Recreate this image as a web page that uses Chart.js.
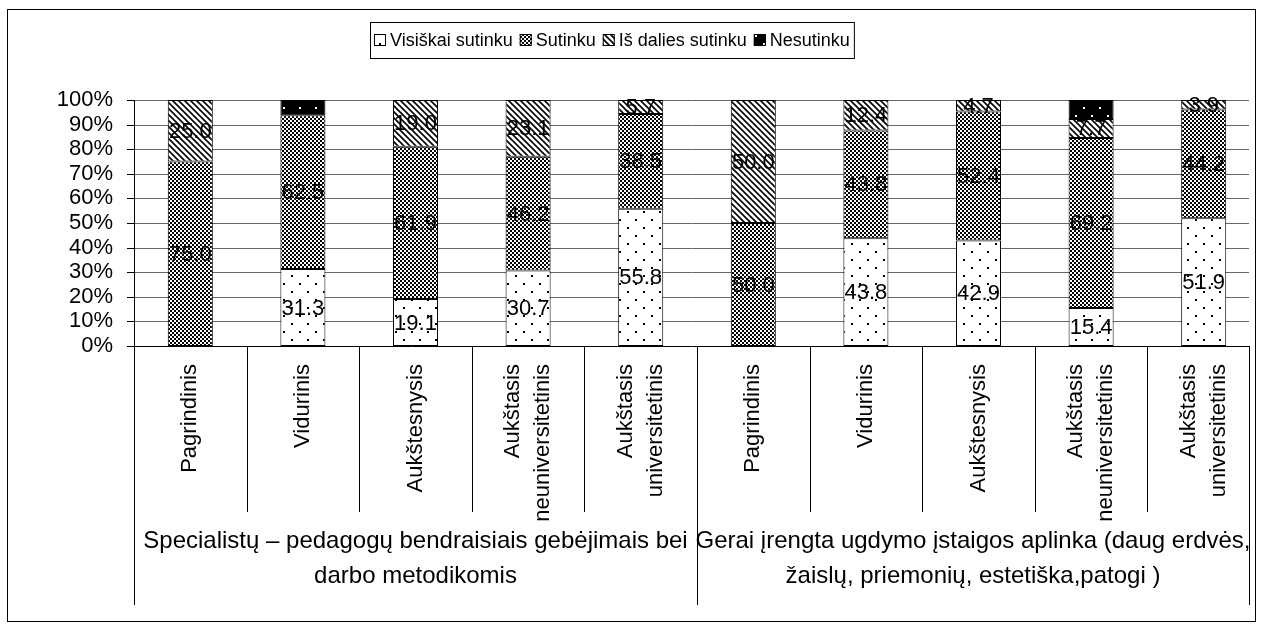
<!DOCTYPE html>
<html>
<head>
<meta charset="utf-8">
<script src="https://cdn.jsdelivr.net/npm/chart.js@4.4.1/dist/chart.umd.min.js"></script>
<style>
  html, body { margin: 0; padding: 0; background: #fff; }
</style>
</head>
<body>
<canvas id="surveyChart" width="1264" height="631"></canvas>
<script>
const categories = [
  'Pagrindinis', 'Vidurinis', 'Aukštesnysis', ['Aukštasis', 'neuniversitetinis'], ['Aukštasis', 'universitetinis'],
  'Pagrindinis', 'Vidurinis', 'Aukštesnysis', ['Aukštasis', 'neuniversitetinis'], ['Aukštasis', 'universitetinis']
];
const groups = [
  ['Specialistų – pedagogų bendraisiais gebėjimais bei', 'darbo metodikomis'],
  ['Gerai įrengta ugdymo įstaigos aplinka (daug erdvės,', 'žaislų, priemonių, estetiška,patogi )']
];
const seriesNames = ['Visiškai sutinku', 'Sutinku', 'Iš dalies sutinku', 'Nesutinku'];
const visiskai  = [0, 31.3, 19.1, 30.7, 55.8, 0, 43.8, 42.9, 15.4, 51.9];
const sutinku   = [75.0, 62.5, 61.9, 46.2, 38.5, 50.0, 43.8, 52.4, 69.2, 44.2];
const isDalies  = [25.0, 0, 19.0, 23.1, 5.7, 50.0, 12.4, 4.7, 7.7, 3.9];
const nesutinku = [0, 6.2, 0, 0, 0, 0, 0, 0, 7.7, 0];
const yTicks = [0, 10, 20, 30, 40, 50, 60, 70, 80, 90, 100];

const FONT = 'Liberation Sans, Arial, sans-serif';
const PLOT_RIGHT = 1249;   // gridlines and last separator stop here

// black & white fill patterns, like an old office chart
function makePattern(w, h, draw) {
  const c = document.createElement('canvas');
  c.width = w; c.height = h;
  const g = c.getContext('2d');
  draw(g, w, h);
  return g.createPattern(c, 'repeat');
}
const dots = makePattern(16, 16, (g) => {
  g.fillStyle = '#fff'; g.fillRect(0, 0, 16, 16);
  g.fillStyle = '#000'; g.fillRect(3, 3, 2, 2); g.fillRect(11, 11, 2, 2);
});
const checker = makePattern(4, 4, (g) => {
  g.fillStyle = '#fff'; g.fillRect(0, 0, 4, 4);
  g.fillStyle = '#000'; g.fillRect(0, 0, 2, 2); g.fillRect(2, 2, 2, 2);
});
const diagonal = makePattern(6, 6, (g) => {
  g.fillStyle = '#fff'; g.fillRect(0, 0, 6, 6);
  g.strokeStyle = '#000'; g.lineWidth = 1.6;
  g.beginPath();
  g.moveTo(-1, -1); g.lineTo(7, 7);
  g.moveTo(-4, 2); g.lineTo(4, 10);
  g.moveTo(2, -4); g.lineTo(10, 4);
  g.stroke();
});
const darkDots = makePattern(16, 16, (g) => {
  g.fillStyle = '#000'; g.fillRect(0, 0, 16, 16);
  g.fillStyle = '#fff'; g.fillRect(3, 3, 2, 2); g.fillRect(11, 11, 2, 2);
});
const fills = [dots, checker, diagonal, darkDots];

// horizontal gridlines, tick marks and the value axis line
const gridLines = {
  id: 'gridLines',
  beforeDatasetsDraw(chart) {
    const ctx = chart.ctx;
    const area = chart.chartArea;
    const y = chart.scales.y;
    ctx.save();
    ctx.lineWidth = 1;
    yTicks.forEach((v) => {
      const py = Math.round(y.getPixelForValue(v)) + 0.5;
      ctx.strokeStyle = v === 0 ? '#000' : '#666';
      ctx.beginPath();
      ctx.moveTo(area.left, py);
      ctx.lineTo(PLOT_RIGHT, py);
      ctx.stroke();
      ctx.strokeStyle = '#000';
      ctx.beginPath();
      ctx.moveTo(area.left - 7, py);
      ctx.lineTo(area.left, py);
      ctx.stroke();
    });
    const ax = Math.round(area.left) + 0.5;
    ctx.beginPath();
    ctx.moveTo(ax, area.top);
    ctx.lineTo(ax, area.bottom);
    ctx.stroke();
    ctx.restore();
  }
};

// value labels in the middle of each segment
const segmentLabels = {
  id: 'segmentLabels',
  afterDatasetsDraw(chart) {
    const ctx = chart.ctx;
    ctx.save();
    ctx.font = '22px ' + FONT;
    ctx.fillStyle = '#000';
    ctx.textAlign = 'center';
    ctx.textBaseline = 'middle';
    chart.data.datasets.forEach((ds, di) => {
      if (di === 3) return;
      chart.getDatasetMeta(di).data.forEach((bar, i) => {
        const v = ds.data[i];
        if (!v) return;
        ctx.fillText(v.toFixed(1), bar.x, (bar.y + bar.base) / 2 + 1);
      });
    });
    ctx.restore();
  }
};

// frame, legend box, category separators and two-level axis text
const decorations = {
  id: 'decorations',
  afterDraw(chart) {
    const ctx = chart.ctx;
    const area = chart.chartArea;
    const x = chart.scales.x;
    const step = (area.right - area.left) / categories.length;
    const sepBottom = 512, groupBottom = 605;
    ctx.save();

    // outer frame
    ctx.strokeStyle = '#000';
    ctx.lineWidth = 1;
    ctx.strokeRect(7.5, 9.5, 1248, 612);

    // separators under the bars
    ctx.beginPath();
    for (let k = 0; k <= categories.length; k++) {
      const sx = k === categories.length ? PLOT_RIGHT + 0.5 : Math.round(area.left + k * step) + 0.5;
      const full = k % 5 === 0;
      ctx.moveTo(sx, area.bottom);
      ctx.lineTo(sx, full ? groupBottom : sepBottom);
    }
    ctx.stroke();

    // rotated category names
    ctx.font = '22px ' + FONT;
    ctx.fillStyle = '#000';
    ctx.textAlign = 'right';
    ctx.textBaseline = 'middle';
    categories.forEach((lab, i) => {
      const lines = Array.isArray(lab) ? lab : [lab];
      const cx = x.getPixelForValue(i);
      ctx.save();
      ctx.translate(cx, area.bottom + 18);
      ctx.rotate(-Math.PI / 2);
      lines.forEach((ln, j) => {
        ctx.fillText(ln, 0, (j - (lines.length - 1) / 2) * 30);
      });
      ctx.restore();
    });

    // group names
    ctx.font = '24px ' + FONT;
    ctx.textAlign = 'center';
    groups.forEach((g, gi) => {
      const left = area.left + gi * 5 * step;
      const right = gi === 0 ? area.left + 5 * step : PLOT_RIGHT;
      g.forEach((ln, j) => ctx.fillText(ln, (left + right) / 2, 541 + j * 35));
    });

    // legend
    ctx.font = '18px ' + FONT;
    ctx.textAlign = 'left';
    const box = 12, gapIn = 4, gapOut = 7, padX = 4;
    let w = padX * 2;
    seriesNames.forEach((n, i) => {
      w += box + gapIn + ctx.measureText(n).width + (i < seriesNames.length - 1 ? gapOut : 0);
    });
    const lx = Math.round(612 - w / 2), ly = 22, lh = 36;
    ctx.strokeRect(lx + 0.5, ly + 0.5, w, lh);
    let cx = lx + padX;
    const cy = ly + lh / 2;
    seriesNames.forEach((n, i) => {
      ctx.fillStyle = fills[i];
      ctx.fillRect(cx, cy - box / 2, box, box);
      ctx.strokeRect(cx + 0.5, cy - box / 2 + 0.5, box - 1, box - 1);
      ctx.fillStyle = '#000';
      ctx.fillText(n, cx + box + gapIn, cy + 1);
      cx += box + gapIn + ctx.measureText(n).width + gapOut;
    });
    ctx.restore();
  }
};

const series = [visiskai, sutinku, isDalies, nesutinku];

new Chart(document.getElementById('surveyChart'), {
  type: 'bar',
  data: {
    labels: categories,
    datasets: series.map((d, i) => ({
      label: seriesNames[i],
      data: d,
      backgroundColor: fills[i],
      borderColor: '#000',
      borderWidth: 1,
      borderSkipped: false,
      barPercentage: 0.4,
      categoryPercentage: 1
    }))
  },
  options: {
    responsive: false,
    animation: false,
    layout: { padding: { top: 100, right: 4, bottom: 285, left: 0 } },
    plugins: {
      legend: { display: false },
      tooltip: { enabled: false }
    },
    scales: {
      x: { stacked: true, display: false },
      y: {
        stacked: true,
        min: 0,
        max: 100,
        afterBuildTicks: (s) => { s.ticks = yTicks.map(v => ({ value: v })); },
        afterFit: (s) => { s.width = 134; },
        ticks: {
          autoSkip: false,
          callback: (v) => v + '%',
          color: '#000',
          font: { size: 22, family: FONT },
          padding: 14
        },
        grid: { display: false, tickLength: 7 },
        border: { display: false }
      }
    }
  },
  plugins: [gridLines, segmentLabels, decorations]
});
</script>
</body>
</html>
